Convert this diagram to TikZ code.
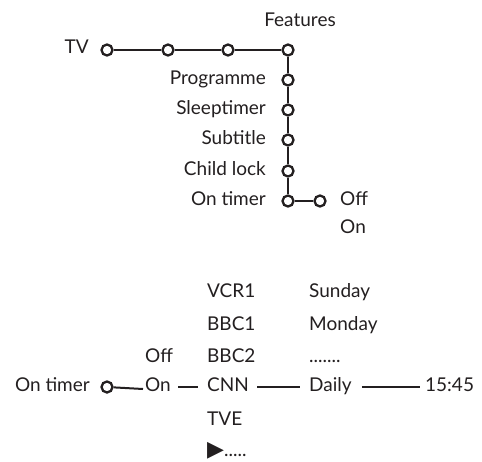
\documentclass[tikz,border=0pt]{standalone}
\usepackage{fontspec}
\setmainfont{Lato}
\newfontfamily\symfont{DejaVu Sans}
\usetikzlibrary{positioning}
\definecolor{inkLine}{HTML}{231F20}

\begin{document}
\begin{tikzpicture}[
  x=1pt,y=-1pt,
  font=\fontsize{19}{22}\selectfont,text=inkLine,
  knot/.style={circle,draw=inkLine,line width=2.3pt,fill=white,minimum size=11pt,inner sep=0pt},
  lbl/.style={inner sep=0pt,anchor=mid east},
  opt/.style={inner sep=0pt,anchor=mid west},
  link/.style={draw=inkLine,line width=2.4pt},
  rowline/.style={draw=inkLine,line width=2pt}
]
\useasboundingbox (0,0) rectangle (482,461);
% upper menu tree
\node[knot] (tv) at (107,50) {};
\node[knot] (k1) at (168,50) {};
\node[knot] (k2) at (228,50) {};
\node[knot] (feat) at (288,50) {};
\node[knot] (prog) at (288,80) {};
\node[knot] (sleep) at (288,110) {};
\node[knot] (sub) at (288,140) {};
\node[knot] (child) at (288,171) {};
\node[knot] (ontim) at (288,201) {};
\node[knot] (off) at (320,201) {};
\node[lbl] (tvL) at (89,51) {TV};
\node[inner sep=0pt,anchor=mid] (featL) at (300,24) {Features};
\node[lbl] (progL) at (266,82) {Programme};
\node[lbl] (sleepL) at (266,112) {Sleeptimer};
\node[lbl] (subL) at (266,142) {Subtitle};
\node[lbl] (childL) at (266,173) {Child lock};
\node[lbl] (ontimL) at (266,203) {On timer};
\node[opt] (offL) at (340,203) {Off};
\node[opt] (onL) at (340,231) {On};
\draw[link] (tv) -- (k1);
\draw[link] (k1) -- (k2);
\draw[link] (k2) -- (feat);
\draw[link] (feat) -- (prog);
\draw[link] (prog) -- (sleep);
\draw[link] (sleep) -- (sub);
\draw[link] (sub) -- (child);
\draw[link] (child) -- (ontim);
\draw[link] (ontim) -- (off);
% lower row: On timer settings
\node[lbl] (timL) at (90,389) {On timer};
\node[knot] (tim) at (107,387) {};
\node[opt] (off2) at (145,360) {Off};
\node[opt] (on2) at (145,389) {On};
\node[opt] (vcr) at (207,295) {VCR1};
\node[opt] (bbc1) at (207,328) {BBC1};
\node[opt] (bbc2) at (207,360) {BBC2};
\node[opt] (cnn) at (207,389) {CNN};
\node[opt] (tve) at (207,423) {TVE};
\node[opt] (more) at (207,454) {{\symfont\fontsize{22}{24}\selectfont▶}.....};
\node[opt] (sun) at (309,295) {Sunday};
\node[opt] (mon) at (309,328) {Monday};
\node[opt] (dots) at (309,360) {.......};
\node[opt] (daily) at (309,389) {Daily};
\node[opt] (time) at (425,389) {15:45};
\draw[rowline] (tim) -- ([xshift=-2pt]on2.mid west);
\draw[rowline,shorten <=7pt,shorten >=9pt] ([yshift=2pt]on2.mid east) -- ([yshift=2pt]cnn.mid west);
\draw[rowline,shorten <=8pt,shorten >=9pt] ([yshift=2pt]cnn.mid east) -- ([yshift=2pt]daily.mid west);
\draw[rowline,shorten <=10pt,shorten >=5pt] ([yshift=2pt]daily.mid east) -- ([yshift=2pt]time.mid west);
\end{tikzpicture}
\end{document}
